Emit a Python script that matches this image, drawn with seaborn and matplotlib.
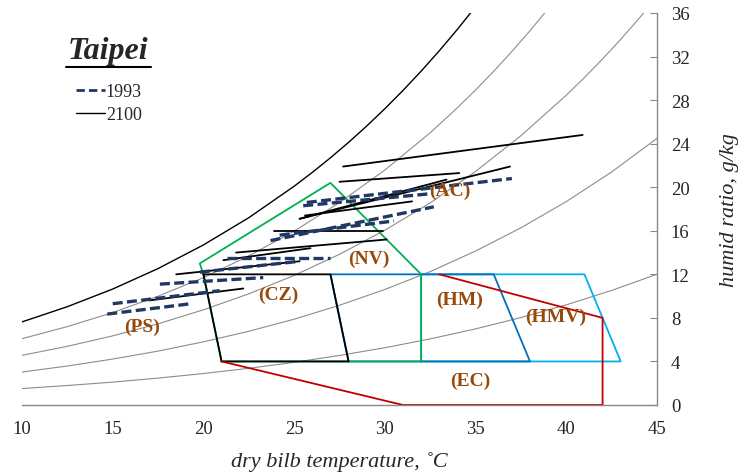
import numpy as np
import pandas as pd
import seaborn as sns
import matplotlib.pyplot as plt
from matplotlib.lines import Line2D

# curvas de umidade relativa, g/kg
t100 = [10, 12.5, 15, 17.5, 20, 22.5, 25, 26, 27, 28, 29, 30, 31, 32, 33, 34, 35]
rh100 = [7.63, 9.03, 10.65, 12.53, 14.70, 17.20, 20.09, 21.36, 22.70, 24.12, 25.62,
         27.21, 28.89, 30.66, 32.53, 34.50, 36.59]
t80 = [10, 12.5, 15, 17.5, 20, 22.5, 25, 27.5, 30, 32.5, 34, 35, 36, 37, 38, 39]
rh80 = [6.09, 7.20, 8.49, 9.99, 11.70, 13.69, 15.97, 18.59, 21.58, 25.00, 27.30,
        28.93, 30.65, 32.46, 34.37, 36.39]
t60 = [10, 12.5, 15, 17.5, 20, 22.5, 25, 27.5, 30, 32.5, 35, 37.5, 40, 41, 42, 43, 44, 45]
rh60 = [4.56, 5.39, 6.35, 7.46, 8.74, 10.21, 11.90, 13.84, 16.05, 18.56, 21.45, 24.73,
        28.45, 30.07, 31.78, 33.58, 35.48, 37.47]
t40 = [10, 12.5, 15, 17.5, 20, 22.5, 25, 27.5, 30, 32.5, 35, 37.5, 40, 42.5, 45]
rh40 = [3.03, 3.58, 4.22, 4.95, 5.80, 6.77, 7.88, 9.16, 10.61, 12.25, 14.14, 16.27,
        18.68, 21.40, 24.49]
t20 = [10, 12.5, 15, 17.5, 20, 22.5, 25, 27.5, 30, 32.5, 35, 37.5, 40, 42.5, 45]
rh20 = [1.51, 1.79, 2.10, 2.47, 2.89, 3.37, 3.92, 4.55, 5.26, 6.07, 6.99, 8.03, 9.20,
        10.52, 12.01]

# zonas de conforto / estrategias
zone_names = ["HMV", "HM", "NV", "CZ", "EC"]
zone_t = [[32, 32, 41, 43, 32],
          [28, 27, 36, 38, 28],
          [21, 20, 19.8, 27, 32, 32, 21],
          [20, 27, 28, 21, 20],
          [33, 42, 42, 31, 21]]
zone_w = [[4, 12, 12, 4, 4],
          [4, 12, 12, 4, 4],
          [4, 12, 13, 20.4, 12, 4, 4],
          [12, 12, 4, 4, 12],
          [12, 8, 0, 0, 4]]
zone_colors = ["#00B0F0", "#0070C0", "#00B050", "black", "#C00000"]

label_text = ["(PS)", "(CZ)", "(NV)", "(AC)", "(HM)", "(HMV)", "(EC)"]
label_t = [16.6, 24.1, 29.1, 33.6, 34.1, 39.4, 34.7]
label_w = [7.25, 10.2, 13.5, 19.7, 9.7, 8.1, 2.3]

# segmentos mensais
t1993_start = [25.7, 25.5, 23.7, 24.2, 21.3, 17.6, 19.8, 15.0, 14.7]
t1993_end = [37.0, 32.5, 32.7, 30.5, 27.0, 23.3, 25.3, 20.9, 19.3]
w1993_start = [18.6, 18.3, 15.1, 15.6, 13.5, 11.1, 12.2, 9.3, 8.35]
w1993_end = [20.8, 19.4, 18.2, 16.9, 13.5, 11.7, 13.2, 10.5, 9.3]

t2100_start = [27.7, 27.5, 25.3, 25.3, 25.6, 23.9, 21.8, 21.1, 18.5, 17.0]
t2100_end = [40.9, 34.1, 36.9, 33.4, 31.5, 29.9, 30.1, 25.9, 25.3, 22.2]
w2100_start = [21.9, 20.5, 17.1, 17.1, 17.4, 16.0, 14.0, 13.3, 12.0, 9.6]
w2100_end = [24.8, 21.3, 21.9, 20.7, 18.7, 16.0, 15.2, 14.4, 13.2, 10.7]

serif = ["Liberation Serif", "DejaVu Serif"]
sns.set_style("white")
plt.rcParams["font.family"] = serif

fig = plt.figure(figsize=(7.42, 4.77), dpi=100)
ax = fig.add_axes([22 / 742, 1 - 406 / 477, 635 / 742, 392 / 477])

# curvas UR
curves = []
for name, tt, vals in [("100", t100, rh100), ("80", t80, rh80), ("60", t60, rh60),
                       ("40", t40, rh40), ("20", t20, rh20)]:
    curves.append(pd.DataFrame({"t": tt, "w": vals, "rh": name}))
curves = pd.concat(curves)
sns.lineplot(data=curves[curves.rh != "100"], x="t", y="w", units="rh", estimator=None,
             color="#8c8c8c", lw=0.8, ax=ax)
sns.lineplot(data=curves[curves.rh == "100"], x="t", y="w", color="black", lw=1.0, ax=ax)

# zonas
for i, name in enumerate(zone_names):
    df = pd.DataFrame({"t": zone_t[i], "w": zone_w[i]})
    sns.lineplot(data=df, x="t", y="w", sort=False, estimator=None,
                 color=zone_colors[i], lw=1.3, ax=ax)

# segmentos 2100
rows = []
for k in range(len(t2100_start)):
    rows.append({"seg": k, "t": t2100_start[k], "w": w2100_start[k]})
    rows.append({"seg": k, "t": t2100_end[k], "w": w2100_end[k]})
sns.lineplot(data=pd.DataFrame(rows), x="t", y="w", units="seg", estimator=None,
             color="black", lw=1.3, ax=ax)

# segmentos 1993
rows = []
for k in range(len(t1993_start)):
    rows.append({"seg": k, "t": t1993_start[k], "w": w1993_start[k]})
    rows.append({"seg": k, "t": t1993_end[k], "w": w1993_end[k]})
sns.lineplot(data=pd.DataFrame(rows), x="t", y="w", units="seg", estimator=None,
             color="#1F3864", lw=2.4, ax=ax)
for ln in ax.lines[-len(t1993_start):]:
    ln.set_dashes([3, 1.3])

for txt, x, y in zip(label_text, label_t, label_w):
    ax.text(x, y, txt, color="#984807", fontsize=14, fontweight="bold",
            ha="center", va="center", family=serif)

ax.set_xlim(10, 45)
ax.set_ylim(0, 36)
ax.set_xticks(range(10, 46, 5))
ax.set_yticks(range(0, 37, 4))
ax.yaxis.tick_right()
ax.yaxis.set_label_position("right")
for s in ["top", "left"]:
    ax.spines[s].set_visible(False)
for s in ["bottom", "right"]:
    ax.spines[s].set_color("#888888")
    ax.spines[s].set_linewidth(1.0)
ax.tick_params(axis="x", direction="out", length=5, color="#888888", labelsize=13.5, pad=6)
ax.tick_params(axis="y", direction="in", length=5, color="#888888", labelsize=13.5, pad=10,
               right=True, left=False)
ax.set_xlabel("dry bilb temperature, ˚C", fontsize=16, style="italic", labelpad=10)
ax.set_ylabel("humid ratio, g/kg", fontsize=16, style="italic", labelpad=22)
ax.grid(False)

# legenda
handles = [Line2D([], [], color="#1F3864", lw=2.0, dashes=[3, 1.5]),
           Line2D([], [], color="black", lw=1.0)]
ax.legend(handles, ["1993", "2100"], loc="upper left", frameon=False,
          bbox_to_anchor=(76 / 742, 1 - 84 / 477), bbox_transform=fig.transFigure,
          fontsize=13, handlelength=1.6, handletextpad=0.05, labelspacing=0.35,
          borderpad=0, borderaxespad=0)

fig.text(108 / 742, 1 - 51 / 477, "Taipei", fontsize=23, fontweight="bold",
         style="italic", ha="center", va="center", family=serif)
fig.add_artist(Line2D([66 / 742, 151 / 742], [1 - 68 / 477, 1 - 68 / 477],
                      color="black", lw=1.5, transform=fig.transFigure))

fig.savefig("out.png", dpi=100)
